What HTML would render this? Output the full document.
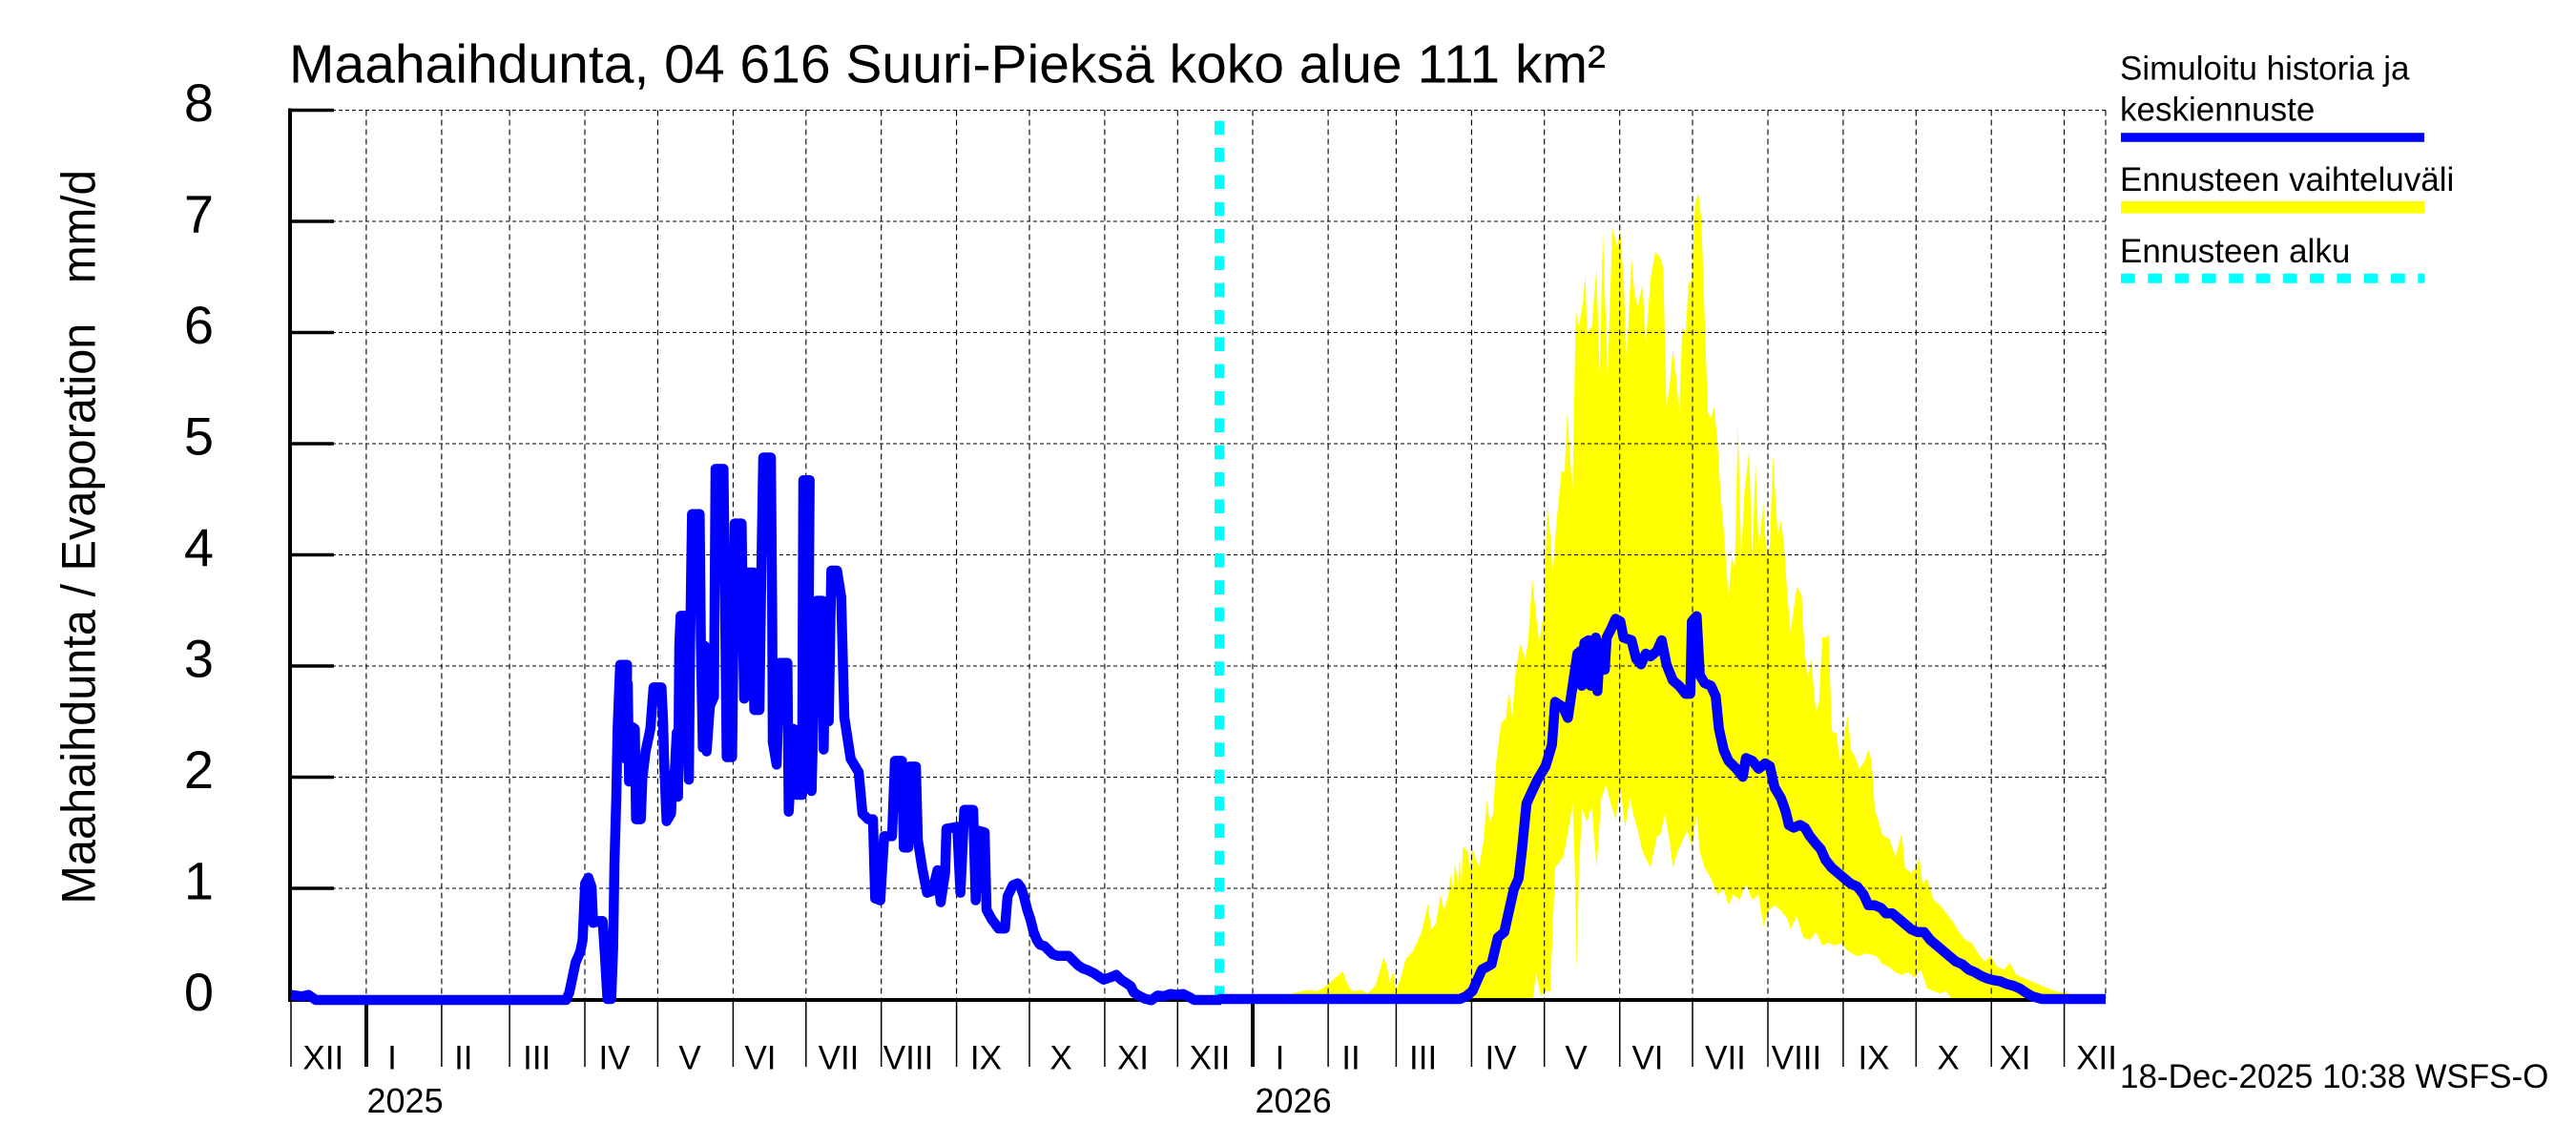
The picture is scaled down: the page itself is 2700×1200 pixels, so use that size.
<!DOCTYPE html>
<html><head><meta charset="utf-8"><style>html,body{margin:0;padding:0;background:#fff}svg{display:block}</style></head>
<body>
<svg width="2700" height="1200" viewBox="0 0 2700 1200" xmlns="http://www.w3.org/2000/svg" font-family="'Liberation Sans', Arial, Helvetica, sans-serif">
<rect width="2700" height="1200" fill="#fff"/>

<!-- Yellow forecast band (zoom-8 frame) -->
<g transform="translate(1290,180) scale(0.333333,0.561167)">
<polygon fill="#ffff00" stroke="none" points="190,1535 240,1528 270,1530 290,1525 310,1515 330,1505 352,1493 365,1515 380,1530 410,1528 430,1535 455,1520 465,1500 480,1468 490,1480 500,1515 510,1492 520,1530 535,1505 550,1470 570,1458 585,1440 600,1420 620,1368 630,1415 645,1405 660,1350 670,1380 685,1350 690,1312 700,1340 705,1290 715,1330 720,1280 725,1340 730,1260 745,1270 752,1300 760,1262 780,1300 795,1250 805,1175 815,1215 825,1200 835,1100 850,1030 865,1020 875,970 885,1020 895,940 910,880 925,910 935,880 948,760 960,830 970,880 985,820 995,625 1005,680 1012,755 1025,650 1040,560 1050,560 1058,450 1070,560 1075,590 1085,260 1095,290 1108,240 1115,190 1120,300 1135,290 1150,180 1160,380 1170,110 1185,380 1200,105 1215,140 1225,110 1235,200 1245,350 1260,160 1270,230 1280,250 1295,210 1305,320 1320,200 1335,150 1350,160 1360,180 1370,440 1380,400 1390,330 1400,380 1410,450 1420,290 1430,300 1440,210 1450,200 1460,60 1470,40 1480,90 1490,270 1500,450 1510,460 1520,440 1530,500 1540,600 1550,670 1560,750 1565,800 1575,720 1585,740 1595,470 1605,720 1615,600 1630,520 1640,720 1650,540 1660,700 1675,620 1685,720 1695,700 1705,530 1720,680 1730,650 1740,700 1750,790 1760,860 1780,775 1795,790 1805,900 1815,945 1825,910 1840,1010 1850,990 1860,870 1870,870 1880,865 1890,1045 1905,1050 1915,1100 1930,1050 1940,1015 1950,1080 1965,1095 1975,1115 1990,1105 2005,1080 2015,1100 2025,1190 2040,1220 2050,1240 2070,1245 2090,1280 2110,1235 2120,1300 2140,1310 2155,1300 2165,1280 2175,1330 2190,1320 2210,1360 2230,1370 2250,1385 2270,1400 2290,1420 2310,1435 2330,1440 2350,1460 2370,1475 2390,1465 2410,1485 2430,1490 2450,1478 2470,1500 2490,1505 2510,1510 2530,1515 2550,1520 2590,1530 2640,1535 2670,1540 2690,1545 2265,1545 2250,1530 2230,1535 2210,1530 2190,1525 2170,1490 2150,1505 2130,1495 2110,1500 2090,1495 2070,1485 2050,1480 2030,1465 2000,1460 1970,1465 1940,1455 1920,1440 1900,1445 1880,1440 1860,1445 1840,1420 1820,1435 1800,1430 1780,1390 1760,1415 1750,1395 1730,1380 1710,1370 1690,1380 1675,1410 1660,1350 1640,1360 1620,1330 1600,1360 1580,1350 1565,1370 1550,1340 1530,1350 1510,1320 1490,1300 1475,1270 1465,1200 1450,1260 1435,1230 1420,1250 1405,1270 1390,1300 1380,1250 1365,1200 1350,1240 1340,1240 1320,1300 1295,1270 1280,1230 1270,1210 1255,1170 1240,1225 1225,1150 1210,1210 1195,1180 1180,1145 1165,1170 1150,1300 1135,1185 1120,1215 1105,1190 1095,1300 1088,1490 1082,1300 1075,1180 1060,1235 1045,1280 1020,1300 1012,1420 1005,1530 990,1530 975,1540 960,1495 950,1545 190,1545"/>
</g>

<!-- Grid -->
<g stroke="#000" stroke-width="1.1" fill="none">
<g stroke-dasharray="4 3">
<line x1="306" y1="931" x2="2207" y2="931"/>
<line x1="306" y1="814.5" x2="2207" y2="814.5"/>
<line x1="306" y1="698" x2="2207" y2="698"/>
<line x1="306" y1="581.5" x2="2207" y2="581.5"/>
<line x1="306" y1="465" x2="2207" y2="465"/>
<line x1="306" y1="348.5" x2="2207" y2="348.5"/>
<line x1="306" y1="232" x2="2207" y2="232"/>
<line x1="306" y1="115.5" x2="2207" y2="115.5"/>
</g>
<g stroke-dasharray="6 4">
<line x1="383.9" y1="115.5" x2="383.9" y2="1046"/>
<line x1="462.9" y1="115.5" x2="462.9" y2="1046"/>
<line x1="534.1" y1="115.5" x2="534.1" y2="1046"/>
<line x1="613" y1="115.5" x2="613" y2="1046"/>
<line x1="689.4" y1="115.5" x2="689.4" y2="1046"/>
<line x1="768.4" y1="115.5" x2="768.4" y2="1046"/>
<line x1="844.8" y1="115.5" x2="844.8" y2="1046"/>
<line x1="923.7" y1="115.5" x2="923.7" y2="1046"/>
<line x1="1002.6" y1="115.5" x2="1002.6" y2="1046"/>
<line x1="1079" y1="115.5" x2="1079" y2="1046"/>
<line x1="1157.9" y1="115.5" x2="1157.9" y2="1046"/>
<line x1="1234.3" y1="115.5" x2="1234.3" y2="1046"/>
<line x1="1313" y1="115.5" x2="1313" y2="1046"/>
<line x1="1392.1" y1="115.5" x2="1392.1" y2="1046"/>
<line x1="1463.4" y1="115.5" x2="1463.4" y2="1046"/>
<line x1="1542.4" y1="115.5" x2="1542.4" y2="1046"/>
<line x1="1618.7" y1="115.5" x2="1618.7" y2="1046"/>
<line x1="1697.7" y1="115.5" x2="1697.7" y2="1046"/>
<line x1="1774" y1="115.5" x2="1774" y2="1046"/>
<line x1="1853" y1="115.5" x2="1853" y2="1046"/>
<line x1="1931.9" y1="115.5" x2="1931.9" y2="1046"/>
<line x1="2008.3" y1="115.5" x2="2008.3" y2="1046"/>
<line x1="2087.2" y1="115.5" x2="2087.2" y2="1046"/>
<line x1="2163.6" y1="115.5" x2="2163.6" y2="1046"/>
<line x1="2207" y1="115.5" x2="2207" y2="1046"/>
</g>
</g>

<!-- Month separators below axis -->
<g stroke="#000" stroke-width="1.5">
<line x1="305" y1="1048" x2="305" y2="1118"/>
<line x1="462.9" y1="1048" x2="462.9" y2="1118"/>
<line x1="534.1" y1="1048" x2="534.1" y2="1118"/>
<line x1="613" y1="1048" x2="613" y2="1118"/>
<line x1="689.4" y1="1048" x2="689.4" y2="1118"/>
<line x1="768.4" y1="1048" x2="768.4" y2="1118"/>
<line x1="844.8" y1="1048" x2="844.8" y2="1118"/>
<line x1="923.7" y1="1048" x2="923.7" y2="1118"/>
<line x1="1002.6" y1="1048" x2="1002.6" y2="1118"/>
<line x1="1079" y1="1048" x2="1079" y2="1118"/>
<line x1="1157.9" y1="1048" x2="1157.9" y2="1118"/>
<line x1="1234.3" y1="1048" x2="1234.3" y2="1118"/>
<line x1="1392.1" y1="1048" x2="1392.1" y2="1118"/>
<line x1="1463.4" y1="1048" x2="1463.4" y2="1118"/>
<line x1="1542.4" y1="1048" x2="1542.4" y2="1118"/>
<line x1="1618.7" y1="1048" x2="1618.7" y2="1118"/>
<line x1="1697.7" y1="1048" x2="1697.7" y2="1118"/>
<line x1="1774" y1="1048" x2="1774" y2="1118"/>
<line x1="1853" y1="1048" x2="1853" y2="1118"/>
<line x1="1931.9" y1="1048" x2="1931.9" y2="1118"/>
<line x1="2008.3" y1="1048" x2="2008.3" y2="1118"/>
<line x1="2087.2" y1="1048" x2="2087.2" y2="1118"/>
<line x1="2163.6" y1="1048" x2="2163.6" y2="1118"/>
</g>
<g stroke="#000" stroke-width="4">
<line x1="384" y1="1048" x2="384" y2="1118"/>
<line x1="1313" y1="1048" x2="1313" y2="1118"/>
</g>

<!-- Axes -->
<g stroke="#000" stroke-width="4" fill="none">
<line x1="304" y1="113.5" x2="304" y2="1050"/>
<line x1="302" y1="1048" x2="2207" y2="1048"/>
</g>
<g stroke="#000" stroke-width="3.5">
<line x1="304" y1="931" x2="350" y2="931"/>
<line x1="304" y1="814.5" x2="350" y2="814.5"/>
<line x1="304" y1="698" x2="350" y2="698"/>
<line x1="304" y1="581.5" x2="350" y2="581.5"/>
<line x1="304" y1="465" x2="350" y2="465"/>
<line x1="304" y1="348.5" x2="350" y2="348.5"/>
<line x1="304" y1="232" x2="350" y2="232"/>
<line x1="304" y1="115.5" x2="350" y2="115.5"/>
</g>

<!-- Forecast start line -->
<line x1="1278" y1="126.7" x2="1278" y2="1047" stroke="#00ffff" stroke-width="10" stroke-dasharray="14.7 13.63"/>

<!-- Blue history (zoom-6 frame) -->
<g transform="translate(570,440) scale(0.333333,0.394945)">
<polyline fill="none" stroke="#0000ff" stroke-width="10.5" vector-effect="non-scaling-stroke" stroke-linejoin="round" points="-795,1526 -760,1530 -740,1526 -717,1539.5 70,1539.5 80,1520 100,1440 115,1410 122,1380 130,1230 140,1215 150,1240 155,1335 175,1330 185,1330 192,1420 200,1537 212,1537 218,1400 222,1180 228,1000 232,820 240,650 262,650 258,900 264,700 268,960 278,815 286,820 290,1060 305,1060 310,950 320,880 335,820 345,710 370,710 375,800 378,900 386,1065 400,1045 404,960 412,930 418,830 422,1000 426,600 430,520 452,520 448,750 456,955 460,600 466,250 490,250 494,600 500,870 506,600 512,880 522,760 535,735 540,130 565,130 570,500 575,895 592,895 596,600 600,275 622,275 626,550 630,740 640,405 660,405 656,600 662,770 678,770 684,400 690,100 714,100 718,500 720,855 732,915 742,645 766,645 770,1040 785,820 795,995 812,995 816,160 836,160 832,600 842,985 850,700 858,480 876,480 880,875 886,550 896,800 904,400 922,400 935,470 945,790 965,900 990,935 1002,1045 1020,1060 1035,1060 1042,1270 1058,1275 1070,1105 1095,1105 1104,905 1126,905 1132,1135 1146,1135 1150,920 1170,920 1176,1115 1190,1190 1205,1255 1222,1250 1238,1195 1248,1280 1262,1200 1266,1085 1300,1080 1310,1255 1322,1035 1350,1035 1358,1275 1366,1090 1386,1095 1392,1300 1408,1325 1430,1350 1450,1350 1458,1265 1475,1235 1490,1230 1500,1240.7 1510,1266 1520,1299.8 1530,1325.1 1540,1358.9 1550,1380 1560,1392.6 1575,1396.9 1590,1409.5 1600,1418 1615,1422.2 1650,1422.2 1665,1434.8 1680,1447.5 1695,1456 1710,1460.2 1730,1468.6 1745,1477 1760,1485.5 1775,1481.3 1790,1477 1800,1472.8 1815,1485.5 1830,1493.9 1845,1502.4 1855,1519.2 1870,1527.7 1890,1536.1 1910,1540.3 1930,1527.7 1950,1529.4 1970,1523.5 1990,1526 2010,1523.5 2030,1532 2045,1539.5 2130,1539.5"/>
</g>

<!-- Blue forecast mean (zoom-8 frame) -->
<g transform="translate(1290,180) scale(0.333333,0.561167)">
<polyline fill="none" stroke="#0000ff" stroke-width="10.5" vector-effect="non-scaling-stroke" stroke-linejoin="round" points="-40,1545 720,1545 740,1540 760,1530 790,1490 820,1480 840,1430 860,1420 875,1380 890,1340 905,1320 915,1270 930,1180 945,1160 965,1135 990,1110 1010,1070 1020,990 1045,1000 1060,1020 1075,960 1090,900 1100,895 1104,960 1112,880 1125,875 1132,960 1138,880 1148,870 1153,970 1160,900 1172,880 1176,930 1182,870 1195,855 1210,835 1225,840 1235,870 1260,875 1275,910 1290,920 1305,900 1320,905 1340,895 1355,875 1370,920 1390,950 1410,960 1430,975 1445,975 1450,840 1465,830 1475,940 1490,955 1510,960 1525,980 1535,1040 1550,1080 1565,1100 1590,1115 1610,1130 1620,1095 1640,1100 1660,1115 1680,1105 1695,1110 1710,1150 1730,1170 1745,1195 1755,1220 1770,1225 1790,1220 1805,1225 1820,1240 1840,1255 1855,1265 1870,1285 1890,1300 1910,1310 1930,1320 1950,1330 1970,1335 1990,1350 2005,1370 2025,1370 2045,1375 2060,1385 2080,1385 2100,1395 2120,1405 2140,1415 2160,1420 2180,1420 2200,1435 2220,1445 2240,1455 2260,1465 2280,1475 2300,1480 2320,1490 2340,1495 2360,1502 2380,1507 2400,1510 2420,1512 2440,1517 2460,1520 2480,1525 2500,1533 2520,1540 2550,1545 2751,1545"/>
</g>

<!-- Title -->
<text x="303" y="86.7" font-size="56.7" fill="#000" textLength="1380" lengthAdjust="spacingAndGlyphs">Maahaihdunta, 04 616 Suuri-Pieksä koko alue 111 km²</text>

<!-- Y tick labels -->
<g font-size="56" fill="#000" text-anchor="end">
<text x="224" y="1059">0</text>
<text x="224" y="942.5">1</text>
<text x="224" y="826">2</text>
<text x="224" y="709.5">3</text>
<text x="224" y="593">4</text>
<text x="224" y="476.5">5</text>
<text x="224" y="360">6</text>
<text x="224" y="243.5">7</text>
<text x="224" y="127">8</text>
</g>

<!-- Y axis title -->
<text transform="translate(99.3,947.6) rotate(-90)" font-size="50" fill="#000" textLength="609" lengthAdjust="spacingAndGlyphs">Maahaihdunta / Evaporation</text>
<text transform="translate(99.3,297) rotate(-90)" font-size="50" fill="#000" textLength="119" lengthAdjust="spacingAndGlyphs">mm/d</text>

<!-- Month labels -->
<g font-size="35" fill="#000" text-anchor="middle">
<text x="338.8" y="1120.5">XII</text>
<text x="411" y="1120.5">I</text>
<text x="485.8" y="1120.5">II</text>
<text x="562.7" y="1120.5">III</text>
<text x="644" y="1120.5">IV</text>
<text x="723" y="1120.5">V</text>
<text x="797" y="1120.5">VI</text>
<text x="879" y="1120.5">VII</text>
<text x="952" y="1120.5">VIII</text>
<text x="1033.4" y="1120.5">IX</text>
<text x="1112" y="1120.5">X</text>
<text x="1187.5" y="1120.5">XI</text>
<text x="1268" y="1120.5">XII</text>
<text x="1341.5" y="1120.5">I</text>
<text x="1416" y="1120.5">II</text>
<text x="1491.6" y="1120.5">III</text>
<text x="1573" y="1120.5">IV</text>
<text x="1652" y="1120.5">V</text>
<text x="1727" y="1120.5">VI</text>
<text x="1808.5" y="1120.5">VII</text>
<text x="1883" y="1120.5">VIII</text>
<text x="1964" y="1120.5">IX</text>
<text x="2042" y="1120.5">X</text>
<text x="2112" y="1120.5">XI</text>
<text x="2197.6" y="1120.5">XII</text>
</g>
<g font-size="36" fill="#000">
<text x="384.5" y="1166">2025</text>
<text x="1315.5" y="1166">2026</text>
</g>

<!-- Timestamp -->
<text x="2222" y="1140" font-size="35" fill="#000">18-Dec-2025 10:38 WSFS-O</text>

<!-- Legend -->
<g font-size="35" fill="#000">
<text x="2222" y="83.3">Simuloitu historia ja</text>
<text x="2222" y="126.7">keskiennuste</text>
<text x="2222" y="200">Ennusteen vaihteluväli</text>
<text x="2222" y="275">Ennusteen alku</text>
</g>
<line x1="2223" y1="144" x2="2541" y2="144" stroke="#0000ff" stroke-width="9.4"/>
<line x1="2223" y1="217.3" x2="2541" y2="217.3" stroke="#ffff00" stroke-width="12.7"/>
<line x1="2223" y1="291.7" x2="2541" y2="291.7" stroke="#00ffff" stroke-width="10" stroke-dasharray="14.7 13.6"/>
</svg>
</body></html>
